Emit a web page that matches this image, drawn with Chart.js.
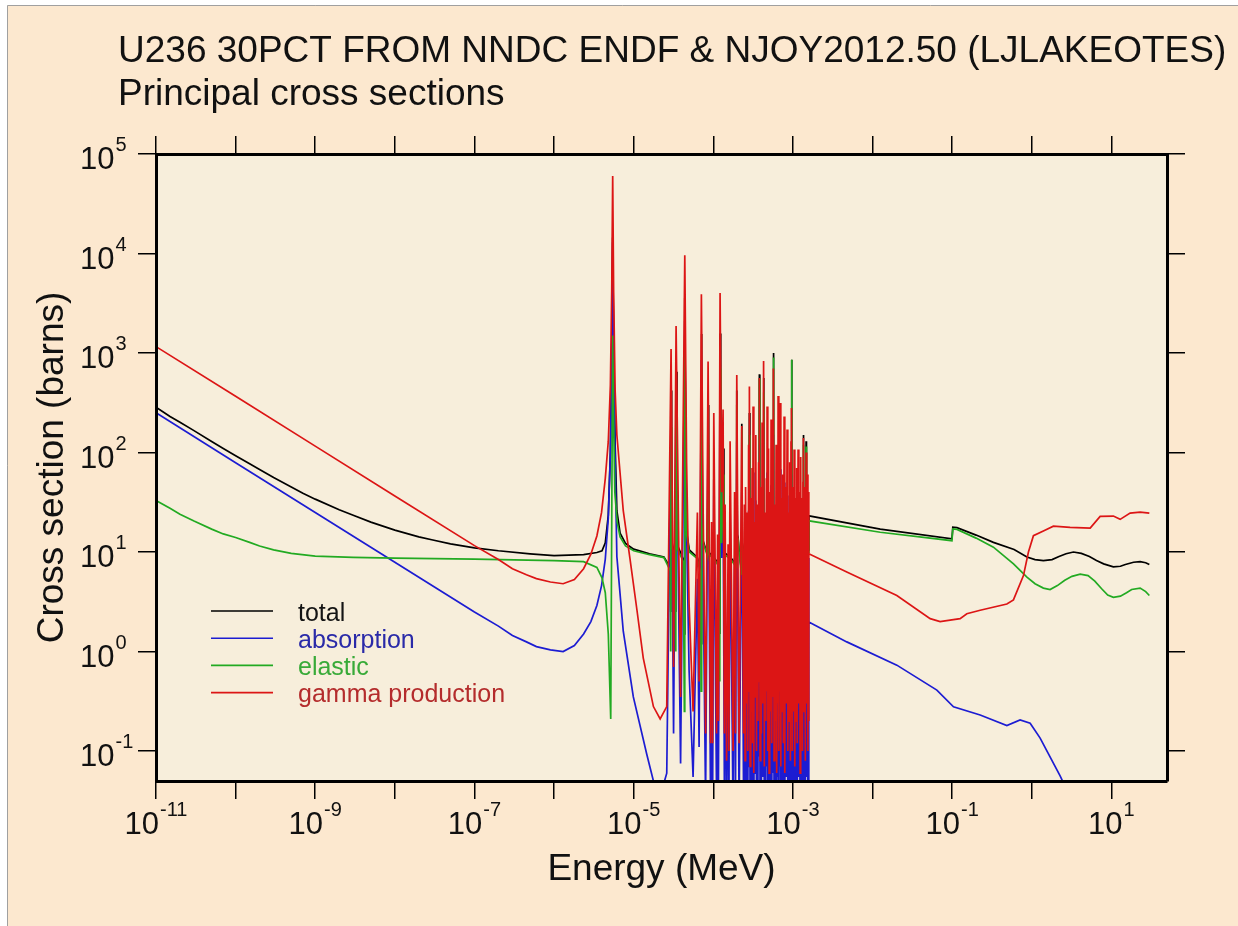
<!DOCTYPE html>
<html>
<head>
<meta charset="utf-8">
<title>U236 principal cross sections</title>
<script src="https://cdn.jsdelivr.net/npm/chart.js@4.4.1/dist/chart.umd.min.js"></script>
<style>
  html, body { margin: 0; padding: 0; background: #fff; }
  #xs { display: block; }
</style>
</head>
<body>
<canvas id="xs" width="1238" height="926"></canvas>
<script>
// axis limits and decade marks
const xMin = 1e-11, xMax = 50;
const yMin = 0.05, yMax = 1e5;
const xTickPowers = [-11, -10, -9, -8, -7, -6, -5, -4, -3, -2, -1, 0, 1];
const xLabelPowers = [-11, -9, -7, -5, -3, -1, 1];
const yTickPowers = [-1, 0, 1, 2, 3, 4, 5];

const titleLines = ['U236 30PCT FROM NNDC ENDF & NJOY2012.50 (LJLAKEOTES)', 'Principal cross sections'];
const xTitle = 'Energy (MeV)';
const yTitle = 'Cross section (barns)';
const seriesNames = ['total', 'absorption', 'elastic', 'gamma production'];

// [energy MeV, cross section barns]
const totalXs = [
  [1e-11, 285], [1.5e-11, 230], [2e-11, 201], [3e-11, 166], [5e-11, 129], [7e-11, 110], [1e-10, 93],
  [1.5e-10, 77], [2e-10, 67.5], [3e-10, 56], [5e-10, 45], [7e-10, 39], [1e-9, 34], [2e-9, 26.6],
  [3e-9, 23.4], [5e-9, 20], [1e-8, 16.6], [2e-8, 14.2], [3e-8, 13.2], [5e-8, 12.1], [1e-7, 11],
  [2e-7, 10.3], [5e-7, 9.6], [1e-6, 9.2], [2.35e-6, 9.4], [3.45e-6, 9.9], [4.0e-6, 10.3], [4.4e-6, 12.4],
  [4.8e-6, 23.5], [5.1e-6, 100], [5.3e-6, 960], [5.45e-6, 1.45e4], [5.6e-6, 1100], [5.85e-6, 120],
  [6.15e-6, 26], [6.75e-6, 15.5], [7.9e-6, 12.2], [1.0e-5, 10.7], [1.58e-5, 9.6], [2.4e-5, 8.9],
  [2.88e-5, 7], [2.92e-5, 2.5], [2.949e-5, 420], [3.0e-5, 13], [3.3e-5, 9], [3.38e-5, 2.5],
  [3.409e-5, 650], [3.5e-5, 12], [4.2e-5, 8.5], [4.33e-5, 1.5], [4.385e-5, 3600], [4.5e-5, 45],
  [4.62e-5, 16], [5.0e-5, 10.5], [6.3e-5, 8.8], [6.95e-5, 6.5], [7.02e-5, 1.2], [7.087e-5, 1550],
  [7.2e-5, 22], [7.45e-5, 13], [8.5e-5, 9.3], [8.602e-5, 300], [8.75e-5, 10], [1.0147e-4, 8.8],
  [1.2e-4, 7.5], [1.207e-4, 1.5], [1.217e-4, 1570], [1.24e-4, 16], [1.27e-4, 12.8], [1.327e-4, 110],
  [1.36e-4, 10], [1.65e-4, 8.8], [1.95e-4, 7.5], [1.973e-4, 420], [2.0e-4, 15], [2.05e-4, 14],
  [2.109e-4, 10.2], [2.26e-4, 6.5], [2.28e-4, 195], [2.31e-4, 12.5], [2.4e-4, 10.3], [2.8e-4, 9.8],
  [2.841e-4, 250], [2.88e-4, 11], [3.75e-4, 9.3], [3.793e-4, 610], [3.84e-4, 11.5], [4.24e-4, 9.3],
  [4.284e-4, 560], [4.33e-4, 11.5], [5.63e-4, 9.3], [5.689e-4, 1000], [5.75e-4, 11.5], [9.55e-4, 9.3],
  [9.632e-4, 857], [9.72e-4, 11.5], [1.345e-3, 9.3], [1.355e-3, 150], [1.365e-3, 10.5], [1.455e-3, 9.3],
  [1.465e-3, 130], [1.48e-3, 10.5], [1.58e-3, 10.5], [1.589e-3, 23.1],
  [0.0125, 17], [0.0995, 13.6], [0.102, 17.8], [0.115, 17.6], [0.2, 14.8], [0.33, 12.5], [0.6, 10.6],
  [0.87, 8.9], [1.1, 8.4], [1.4, 8.2], [1.8, 8.4], [2.2, 9.0], [2.7, 9.6], [3.34, 10.0], [4.2, 9.7],
  [5.3, 9.0], [6.5, 8.2], [8, 7.6], [10.6, 7.1], [13, 7.2], [15, 7.5], [19, 7.9], [23, 8.0], [27, 7.8],
  [30, 7.5]
];

const absorptionXs = [
  [1e-11, 251], [1e-10, 79], [1e-9, 25], [1e-8, 7.9], [1e-7, 2.5], [2e-7, 1.8], [3e-7, 1.45],
  [4.5e-7, 1.25], [6e-7, 1.12], [9e-7, 1.04], [1.3e-6, 1.0], [1.8e-6, 1.15], [2.35e-6, 1.5], [2.9e-6, 2.0],
  [3.45e-6, 2.9], [3.95e-6, 4.6], [4.4e-6, 8.5], [4.8e-6, 22], [5.1e-6, 100], [5.3e-6, 900],
  [5.45e-6, 1.3e4], [5.6e-6, 900], [5.85e-6, 80], [6.15e-6, 9], [7.4e-6, 1.6], [9.9e-6, 0.35],
  [1.46e-5, 0.093], [1.77e-5, 0.05], [2.15e-5, 0.035], [2.603e-5, 0.06],
  [2.949e-5, 240], [3.171e-5, 0.15], [3.409e-5, 400], [3.883e-5, 0.075], [4.385e-5, 2100],
  [4.619e-5, 17], [4.966e-5, 0.65], [5.573e-5, 0.055], [6.315e-5, 5.4], [6.632e-5, 0.11],
  [7.087e-5, 850], [7.445e-5, 6.5], [8.003e-5, 0.032], [8.602e-5, 180], [9.25e-5, 0.026],
  [9.52e-5, 4.3], [9.8e-5, 0.026], [1.0147e-4, 54], [1.1e-4, 0.032], [1.1324e-4, 3.3], [1.16e-4, 0.04],
  [1.217e-4, 870], [1.271e-4, 8.7], [1.327e-4, 59], [1.38e-4, 0.032], [1.4066e-4, 6.5], [1.469e-4, 0.017],
  [1.5341e-4, 2.6], [1.57e-4, 0.022], [1.626e-4, 28], [1.773e-4, 0.022], [1.8514e-4, 8.7], [1.9e-4, 0.032],
  [1.973e-4, 130], [2.109e-4, 0.026], [2.28e-4, 40], [2.402e-4, 0.03],
  [2.459e-4, 6.5], [2.509e-4, 0.018], [2.545e-4, 9.8], [2.598e-4, 0.05], [2.658e-4, 5.4], [2.713e-4, 0.02],
  [2.777e-4, 26], [2.817e-4, 0.07], [2.841e-4, 100], [2.9e-4, 0.015], [2.959e-4, 7.6], [3.011e-4, 0.045],
  [3.073e-4, 15], [3.118e-4, 0.025], [3.162e-4, 63], [3.228e-4, 0.013], [3.294e-4, 4.3], [3.351e-4, 0.06],
  [3.42e-4, 33], [3.49e-4, 0.02], [3.561e-4, 6.5], [3.634e-4, 0.04], [3.708e-4, 17], [3.763e-4, 0.09],
  [3.793e-4, 120], [3.872e-4, 0.017], [3.951e-4, 9.8], [4.021e-4, 0.03], [4.103e-4, 43], [4.175e-4, 0.055],
  [4.284e-4, 180], [4.372e-4, 0.015], [4.462e-4, 5.4], [4.553e-4, 0.04], [4.646e-4, 12], [4.7e-4, 0.07],
  [4.741e-4, 63], [4.838e-4, 0.02], [4.937e-4, 24], [5.023e-4, 0.013], [5.11e-4, 8.7], [5.2e-4, 0.045],
  [5.322e-4, 47], [5.43e-4, 0.025], [5.541e-4, 11], [5.623e-4, 0.06], [5.689e-4, 150], [5.804e-4, 0.017],
  [5.923e-4, 6.5], [6.028e-4, 0.04], [6.15e-4, 26], [6.258e-4, 0.013], [6.386e-4, 9.8], [6.46e-4, 0.055],
  [6.517e-4, 80], [6.65e-4, 0.02], [6.766e-4, 20], [6.845e-4, 0.07], [6.905e-4, 68], [7.047e-4, 0.015],
  [7.191e-4, 7.6], [7.316e-4, 0.045], [7.445e-4, 13], [7.597e-4, 0.025], [7.752e-4, 50], [7.91e-4, 0.013],
  [8.072e-4, 9.8], [8.215e-4, 0.055], [8.455e-4, 37], [8.627e-4, 0.02], [8.803e-4, 5.4], [8.959e-4, 0.04],
  [9.115e-4, 17], [9.302e-4, 0.017], [9.465e-4, 28], [9.548e-4, 0.07], [9.632e-4, 61], [9.829e-4, 0.02],
  [1.003e-3, 9.8], [1.0205e-3, 0.045], [1.0354e-3, 23], [1.0566e-3, 0.015], [1.0782e-3, 7.6], [1.097e-3, 0.04],
  [1.1161e-3, 15], [1.1358e-3, 0.025], [1.162e-3, 23], [1.186e-3, 0.055], [1.2103e-3, 8.7], [1.2317e-3, 0.013],
  [1.2531e-3, 20], [1.275e-3, 0.04], [1.2975e-3, 7.6], [1.3201e-3, 0.02], [1.3394e-3, 11], [1.355e-3, 30],
  [1.3785e-3, 0.045], [1.4067e-3, 9.8], [1.4316e-3, 0.017], [1.465e-3, 22], [1.491e-3, 0.055], [1.5169e-3, 13],
  [1.5434e-3, 0.02], [1.566e-3, 8.7], [1.5797e-3, 0.04], [1.589e-3, 1.98],
  [4.75e-3, 1.25], [0.0202, 0.73], [0.0643, 0.41], [0.104, 0.278], [0.225, 0.23], [0.487, 0.18],
  [0.714, 0.205], [0.955, 0.19], [1.275, 0.135], [2.28, 0.056], [3.0, 0.035], [30, 0.01]
];

const elasticXs = [
  [1e-11, 33], [1.5e-11, 27.5], [2e-11, 24], [3e-11, 20.5], [5e-11, 17], [7e-11, 15.2], [1e-10, 14],
  [1.5e-10, 12.5], [2e-10, 11.5], [3e-10, 10.5], [5e-10, 9.7], [1e-9, 9.1], [3e-9, 8.85], [1e-8, 8.7],
  [1e-7, 8.5], [1e-6, 8.2], [2.35e-6, 8.0], [3.45e-6, 7.0], [4.0e-6, 5.5], [4.4e-6, 3.9],
  [4.8e-6, 1.5], [5.15e-6, 0.21], [5.45e-6, 1500], [5.6e-6, 200], [5.8e-6, 40], [6.2e-6, 20],
  [6.75e-6, 14.2], [7.9e-6, 11.5], [1.0e-5, 10.3], [1.58e-5, 9.4], [2.4e-5, 8.8],
  [2.88e-5, 6.5], [2.92e-5, 1.0], [2.949e-5, 180], [3.0e-5, 12], [3.3e-5, 8.5], [3.38e-5, 1.0],
  [3.409e-5, 250], [3.5e-5, 11], [4.2e-5, 8.0], [4.33e-5, 0.25], [4.385e-5, 1500], [4.5e-5, 40],
  [4.62e-5, 15], [5.0e-5, 10], [6.3e-5, 8.6], [6.95e-5, 6], [7.02e-5, 0.4], [7.087e-5, 700],
  [7.2e-5, 20], [7.45e-5, 12.5], [8.5e-5, 9], [8.602e-5, 120], [8.75e-5, 9.5], [1.0147e-4, 8.6],
  [1.2e-4, 7], [1.207e-4, 0.5], [1.217e-4, 700], [1.24e-4, 15], [1.27e-4, 12.3], [1.327e-4, 60],
  [1.36e-4, 9.5], [1.65e-4, 8.5], [1.95e-4, 7], [1.973e-4, 300], [2.0e-4, 14], [2.05e-4, 13.5],
  [2.109e-4, 9.9], [2.26e-4, 6], [2.28e-4, 170], [2.31e-4, 12], [2.4e-4, 10], [2.8e-4, 9.5],
  [2.841e-4, 150], [2.88e-4, 10.5], [3.75e-4, 9], [3.793e-4, 550], [3.84e-4, 11], [4.24e-4, 9],
  [4.284e-4, 400], [4.33e-4, 11], [5.63e-4, 9], [5.689e-4, 900], [5.75e-4, 11], [9.55e-4, 9],
  [9.632e-4, 857], [9.72e-4, 11], [1.345e-3, 9], [1.355e-3, 120], [1.365e-3, 10], [1.455e-3, 9],
  [1.465e-3, 115], [1.48e-3, 10], [1.58e-3, 10], [1.589e-3, 20.6],
  [0.0125, 15.8], [0.0995, 13.0], [0.102, 17.1], [0.115, 16.9], [0.2, 13.8], [0.33, 11.2], [0.59, 7.6],
  [0.87, 5.6], [1.1, 4.8], [1.4, 4.34], [1.7, 4.2], [2.1, 4.6], [2.6, 5.2], [3.2, 5.7], [4.06, 6.0],
  [5.1, 5.8], [6.2, 5.1], [7.5, 4.3], [9, 3.7], [10.6, 3.5], [13, 3.6], [15.5, 3.9], [18, 4.2],
  [23, 4.34], [27, 4.0], [30, 3.66]
];

const gammaXs = [
  [1e-11, 1160], [1e-10, 367], [1e-9, 116], [1e-8, 36.5], [1e-7, 11.6], [2e-7, 8.4], [3e-7, 6.8],
  [4.5e-7, 5.9], [6e-7, 5.4], [9e-7, 5.0], [1.3e-6, 4.8], [1.8e-6, 5.3], [2.35e-6, 6.8], [2.9e-6, 9.5],
  [3.45e-6, 14.5], [3.95e-6, 25], [4.4e-6, 55], [4.8e-6, 130], [5.1e-6, 480], [5.3e-6, 4200],
  [5.45e-6, 6.0e4], [5.6e-6, 4200], [5.85e-6, 420], [6.15e-6, 150], [7.4e-6, 26], [9.0e-6, 8.5],
  [1.1e-5, 2.6], [1.32e-5, 0.86], [1.77e-5, 0.28], [2.15e-5, 0.21], [2.603e-5, 0.28],
  [2.949e-5, 1100], [3.171e-5, 0.7], [3.409e-5, 1870], [3.883e-5, 0.35], [4.385e-5, 9600],
  [4.619e-5, 80], [4.966e-5, 3], [5.573e-5, 0.25], [6.315e-5, 25], [6.632e-5, 0.5], [7.087e-5, 3900],
  [7.445e-5, 30], [8.003e-5, 0.15], [8.602e-5, 820], [9.25e-5, 0.12], [9.52e-5, 20], [9.8e-5, 0.12],
  [1.0147e-4, 250], [1.1e-4, 0.15], [1.1324e-4, 15], [1.16e-4, 0.2], [1.217e-4, 4000], [1.271e-4, 40],
  [1.327e-4, 270], [1.38e-4, 0.15], [1.4066e-4, 30], [1.469e-4, 0.08], [1.5341e-4, 12], [1.57e-4, 0.1],
  [1.626e-4, 130], [1.773e-4, 0.1], [1.8514e-4, 40], [1.9e-4, 0.15], [1.973e-4, 600], [2.109e-4, 0.12],
  [2.28e-4, 185], [2.402e-4, 0.15],
  [2.459e-4, 30], [2.509e-4, 0.08], [2.545e-4, 45], [2.598e-4, 0.3], [2.658e-4, 25], [2.713e-4, 0.1],
  [2.777e-4, 120], [2.817e-4, 0.4], [2.841e-4, 460], [2.9e-4, 0.07], [2.959e-4, 35], [3.011e-4, 0.25],
  [3.073e-4, 70], [3.118e-4, 0.12], [3.162e-4, 290], [3.228e-4, 0.06], [3.294e-4, 20], [3.351e-4, 0.35],
  [3.42e-4, 150], [3.49e-4, 0.1], [3.561e-4, 30], [3.634e-4, 0.2], [3.708e-4, 80], [3.763e-4, 0.5],
  [3.793e-4, 560], [3.872e-4, 0.08], [3.951e-4, 45], [4.021e-4, 0.15], [4.103e-4, 200], [4.175e-4, 0.3],
  [4.284e-4, 830], [4.372e-4, 0.07], [4.462e-4, 25], [4.553e-4, 0.2], [4.646e-4, 55], [4.7e-4, 0.4],
  [4.741e-4, 290], [4.838e-4, 0.1], [4.937e-4, 110], [5.023e-4, 0.06], [5.11e-4, 40], [5.2e-4, 0.25],
  [5.322e-4, 215], [5.43e-4, 0.12], [5.541e-4, 50], [5.623e-4, 0.35], [5.689e-4, 700], [5.804e-4, 0.08],
  [5.923e-4, 30], [6.028e-4, 0.2], [6.15e-4, 120], [6.258e-4, 0.06], [6.386e-4, 45], [6.46e-4, 0.3],
  [6.517e-4, 370], [6.65e-4, 0.1], [6.766e-4, 90], [6.845e-4, 0.4], [6.905e-4, 315], [7.047e-4, 0.07],
  [7.191e-4, 35], [7.316e-4, 0.25], [7.445e-4, 60], [7.597e-4, 0.12], [7.752e-4, 230], [7.91e-4, 0.06],
  [8.072e-4, 45], [8.215e-4, 0.3], [8.455e-4, 170], [8.627e-4, 0.1], [8.803e-4, 25], [8.959e-4, 0.2],
  [9.115e-4, 80], [9.302e-4, 0.08], [9.465e-4, 130], [9.548e-4, 0.4], [9.632e-4, 280], [9.829e-4, 0.1],
  [1.003e-3, 45], [1.0205e-3, 0.25], [1.0354e-3, 107], [1.0566e-3, 0.07], [1.0782e-3, 35], [1.097e-3, 0.2],
  [1.1161e-3, 70], [1.1358e-3, 0.12], [1.162e-3, 107], [1.186e-3, 0.3], [1.2103e-3, 40], [1.2317e-3, 0.06],
  [1.2531e-3, 90], [1.275e-3, 0.2], [1.2975e-3, 35], [1.3201e-3, 0.1], [1.3394e-3, 50], [1.355e-3, 140],
  [1.3785e-3, 0.25], [1.4067e-3, 45], [1.4316e-3, 0.08], [1.465e-3, 100], [1.491e-3, 0.3], [1.5169e-3, 60],
  [1.5434e-3, 0.1], [1.566e-3, 40], [1.5797e-3, 0.2], [1.589e-3, 9.6],
  [4.75e-3, 6.3], [0.0202, 3.66], [0.053, 2.14], [0.0706, 2.0], [0.126, 2.14], [0.153, 2.4], [0.225, 2.6],
  [0.487, 3.0], [0.589, 3.3], [0.787, 5.8], [0.909, 10], [1.05, 14.6], [1.4, 16.3], [1.87, 18.2],
  [3.03, 17.7], [5.42, 17.4], [7.23, 22.8], [10.6, 23], [12.9, 21.3], [17.2, 24.6], [23, 25.2], [30, 24.6]
];

const lineColors = ['#000000', '#1c1cd2', '#22aa22', '#dc1515'];
const labelColors = ['#141414', '#2a2aa8', '#38aa38', '#b42c2c'];
const FONT = '"Liberation Sans", Arial, Helvetica, sans-serif';

// backgrounds, titles, power-of-ten labels and the key
const decor = {
  id: 'decor',
  beforeDraw(chart) {
    const { ctx, chartArea: a, width, height } = chart;
    ctx.save();
    ctx.fillStyle = '#ffffff';
    ctx.fillRect(0, 0, width, height);
    ctx.fillStyle = '#fce8cf';
    ctx.fillRect(7, 5, width - 7, height - 5);
    ctx.strokeStyle = '#a0a0a0';
    ctx.lineWidth = 1;
    ctx.beginPath();
    ctx.moveTo(7.5, height); ctx.lineTo(7.5, 5.5); ctx.lineTo(width, 5.5);
    ctx.stroke();
    ctx.fillStyle = '#f7eedb';
    ctx.fillRect(a.left, a.top, a.right - a.left, a.bottom - a.top);
    ctx.restore();
  },
  afterDraw(chart) {
    const { ctx, chartArea: a } = chart;
    const sx = chart.scales.x, sy = chart.scales.y;
    ctx.save();
    ctx.fillStyle = '#111';
    ctx.textBaseline = 'alphabetic';

    ctx.font = `37px ${FONT}`;
    ctx.textAlign = 'left';
    titleLines.forEach((t, i) => ctx.fillText(t, 118, 62 + i * 43));

    ctx.textAlign = 'center';
    ctx.fillText(xTitle, (a.left + a.right) / 2, 880);
    ctx.save();
    ctx.translate(63, (a.top + a.bottom) / 2);
    ctx.rotate(-Math.PI / 2);
    ctx.fillText(yTitle, 0, 0);
    ctx.restore();

    const big = `31px ${FONT}`, small = `20px ${FONT}`;
    ctx.textAlign = 'left';
    ctx.font = big;
    const w10 = ctx.measureText('10').width;
    xLabelPowers.forEach(p => {
      const px = sx.getPixelForValue(Number('1e' + p));
      ctx.font = small;
      const we = ctx.measureText(String(p)).width;
      const x0 = px - (w10 + 1 + we) / 2;
      ctx.font = big;
      ctx.fillText('10', x0, 834);
      ctx.font = small;
      ctx.fillText(String(p), x0 + w10 + 1, 816);
    });
    yTickPowers.forEach(p => {
      const py = sy.getPixelForValue(Number('1e' + p));
      ctx.font = big;
      ctx.fillText('10', 80, py + 15);
      ctx.font = small;
      ctx.fillText(String(p), 80 + w10 + 1, py - 3);
    });

    // key in the lower left of the frame
    ctx.font = `25px ${FONT}`;
    seriesNames.forEach((name, i) => {
      const y = 611 + i * 27.2;
      ctx.strokeStyle = lineColors[i];
      ctx.lineWidth = 1.6;
      ctx.beginPath();
      ctx.moveTo(211, y); ctx.lineTo(273, y);
      ctx.stroke();
      ctx.fillStyle = labelColors[i];
      ctx.fillText(name, 298, y + 9.5);
    });
    ctx.restore();
  }
};

function logAxis(position, min, max, powers, fit) {
  return {
    type: 'logarithmic',
    position, min, max,
    afterBuildTicks: s => { s.ticks = powers.map(p => ({ value: Number('1e' + p) })); },
    afterFit: fit,
    ticks: { display: false },
    grid: { drawOnChartArea: false, drawTicks: true, tickLength: 18, color: '#000', lineWidth: 1.5 },
    border: { display: true, color: '#000', width: 3, z: 1 }
  };
}

const seriesData = [totalXs, absorptionXs, elasticXs, gammaXs];

new Chart(document.getElementById('xs'), {
  type: 'line',
  data: {
    datasets: seriesData.map((d, i) => ({
      label: seriesNames[i],
      data: d.map(([x, y]) => ({ x, y })),
      borderColor: lineColors[i],
      borderWidth: 1.7,
      pointRadius: 0,
      tension: 0,
      fill: false,
      order: 4 - i,
      xAxisID: 'x',
      yAxisID: 'y'
    }))
  },
  options: {
    responsive: false,
    animation: false,
    devicePixelRatio: 1,
    events: [],
    layout: { padding: 0, autoPadding: false },
    plugins: { legend: { display: false }, tooltip: { enabled: false }, title: { display: false } },
    scales: {
      x: logAxis('bottom', xMin, xMax, xTickPowers, s => { s.height = 145; }),
      x2: logAxis('top', xMin, xMax, xTickPowers, s => { s.height = 154; }),
      y: logAxis('left', yMin, yMax, yTickPowers, s => { s.width = 156; }),
      y2: logAxis('right', yMin, yMax, yTickPowers, s => { s.width = 71; })
    }
  },
  plugins: [decor]
});
</script>
</body>
</html>
